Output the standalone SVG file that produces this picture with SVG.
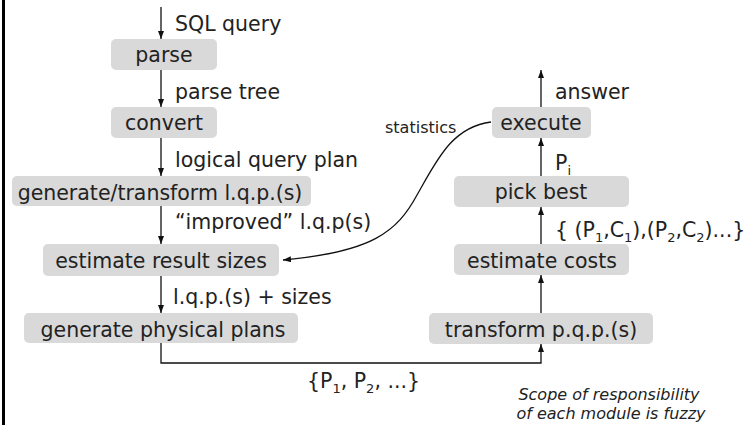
<svg xmlns="http://www.w3.org/2000/svg" width="749" height="425" viewBox="0 0 749 425">
  <defs>
    <marker id="head" viewBox="0 0 8 6" refX="8" refY="3" markerWidth="8" markerHeight="6" markerUnits="userSpaceOnUse" orient="auto">
      <path d="M0,0 L8,3 L0,6 Z" fill="#111"/>
    </marker>
    <style>
      .box { fill: #d9d9d9; }
      .lbl { font-family: "DejaVu Sans", Verdana, sans-serif; font-size: 20.5px; fill: #222; }
      .mid { text-anchor: middle; }
      .small { font-family: "DejaVu Sans", Verdana, sans-serif; font-size: 16px; fill: #222; }
      .note { font-family: "DejaVu Sans", Verdana, sans-serif; font-size: 16px; font-style: italic; fill: #222; text-anchor: middle; }
      .wire { fill: none; stroke: #111; stroke-width: 1.3; marker-end: url(#head); }
    </style>
  </defs>

  <rect width="749" height="425" fill="#ffffff"/>
  <!-- left margin rule -->
  <line x1="3.5" y1="0" x2="3.5" y2="425" stroke="#000" stroke-width="3"/>

  <!-- connectors -->
  <g id="connectors">
    <line class="wire" x1="161" y1="7" x2="161" y2="39"/>
    <line class="wire" x1="161" y1="70" x2="161" y2="107"/>
    <line class="wire" x1="161" y1="138" x2="161" y2="176"/>
    <line class="wire" x1="161" y1="206" x2="161" y2="244"/>
    <line class="wire" x1="161" y1="276" x2="161" y2="313"/>
    <path class="wire" d="M161,343 L161,363 L541,363 L541,344"/>
    <line class="wire" x1="541" y1="313" x2="541" y2="275"/>
    <line class="wire" x1="541" y1="244" x2="541" y2="207"/>
    <line class="wire" x1="541" y1="176" x2="541" y2="138"/>
    <line class="wire" x1="541" y1="107" x2="541" y2="70"/>
    <path class="wire" d="M491,122 C452,127 437,160 417,195 C397,232 372,252 283,260"/>
  </g>

  <!-- edge labels -->
  <g id="edge-labels">
    <text class="lbl" x="175" y="31">SQL query</text>
    <text class="lbl" x="175" y="99">parse tree</text>
    <text class="lbl" x="175" y="167">logical query plan</text>
    <text class="lbl" x="175" y="229">“improved” l.q.p(s)</text>
    <text class="lbl" x="173" y="304">l.q.p.(s) + sizes</text>
    <text class="lbl" x="307" y="388">{P<tspan font-size="13" dy="5">1</tspan><tspan dy="-5">, P</tspan><tspan font-size="13" dy="5">2</tspan><tspan dy="-5">, ...}</tspan></text>
    <text class="lbl" x="555" y="99">answer</text>
    <text class="lbl" x="555" y="170">P<tspan font-size="13" dy="5">i</tspan></text>
    <text class="lbl" x="555" y="237">{ (P<tspan font-size="13" dy="5">1</tspan><tspan dy="-5">,C</tspan><tspan font-size="13" dy="5">1</tspan><tspan dy="-5">),(P</tspan><tspan font-size="13" dy="5">2</tspan><tspan dy="-5">,C</tspan><tspan font-size="13" dy="5">2</tspan><tspan dy="-5">)...}</tspan></text>
    <text class="small" x="385" y="133">statistics</text>
  </g>

  <!-- left column modules -->
  <g id="parse">
    <rect class="box" x="111" y="39" width="106" height="31" rx="5"/>
    <text class="lbl mid" x="164" y="62">parse</text>
  </g>
  <g id="convert">
    <rect class="box" x="111" y="107" width="106" height="31" rx="5"/>
    <text class="lbl mid" x="164" y="130">convert</text>
  </g>
  <g id="generate-transform">
    <rect class="box" x="12" y="176" width="299" height="30" rx="5"/>
    <text class="lbl mid" x="160" y="200">generate/transform l.q.p.(s)</text>
  </g>
  <g id="estimate-result-sizes">
    <rect class="box" x="43" y="244" width="236" height="32" rx="5"/>
    <text class="lbl mid" x="161" y="268">estimate result sizes</text>
  </g>
  <g id="generate-physical-plans">
    <rect class="box" x="24" y="313" width="274" height="30" rx="5"/>
    <text class="lbl mid" x="163" y="337">generate physical plans</text>
  </g>

  <!-- right column modules -->
  <g id="execute">
    <rect class="box" x="492" y="107" width="99" height="31" rx="5"/>
    <text class="lbl mid" x="541" y="130">execute</text>
  </g>
  <g id="pick-best">
    <rect class="box" x="454" y="176" width="175" height="31" rx="5"/>
    <text class="lbl mid" x="541" y="199">pick best</text>
  </g>
  <g id="estimate-costs">
    <rect class="box" x="454" y="244" width="175" height="31" rx="5"/>
    <text class="lbl mid" x="542" y="268">estimate costs</text>
  </g>
  <g id="transform-pqp">
    <rect class="box" x="429" y="313" width="224" height="31" rx="5"/>
    <text class="lbl mid" x="541" y="337">transform p.q.p.(s)</text>
  </g>

  <!-- footnote -->
  <g id="note">
    <text class="note" x="609" y="400">Scope of responsibility</text>
    <text class="note" x="611" y="419">of each module is fuzzy</text>
  </g>
</svg>
